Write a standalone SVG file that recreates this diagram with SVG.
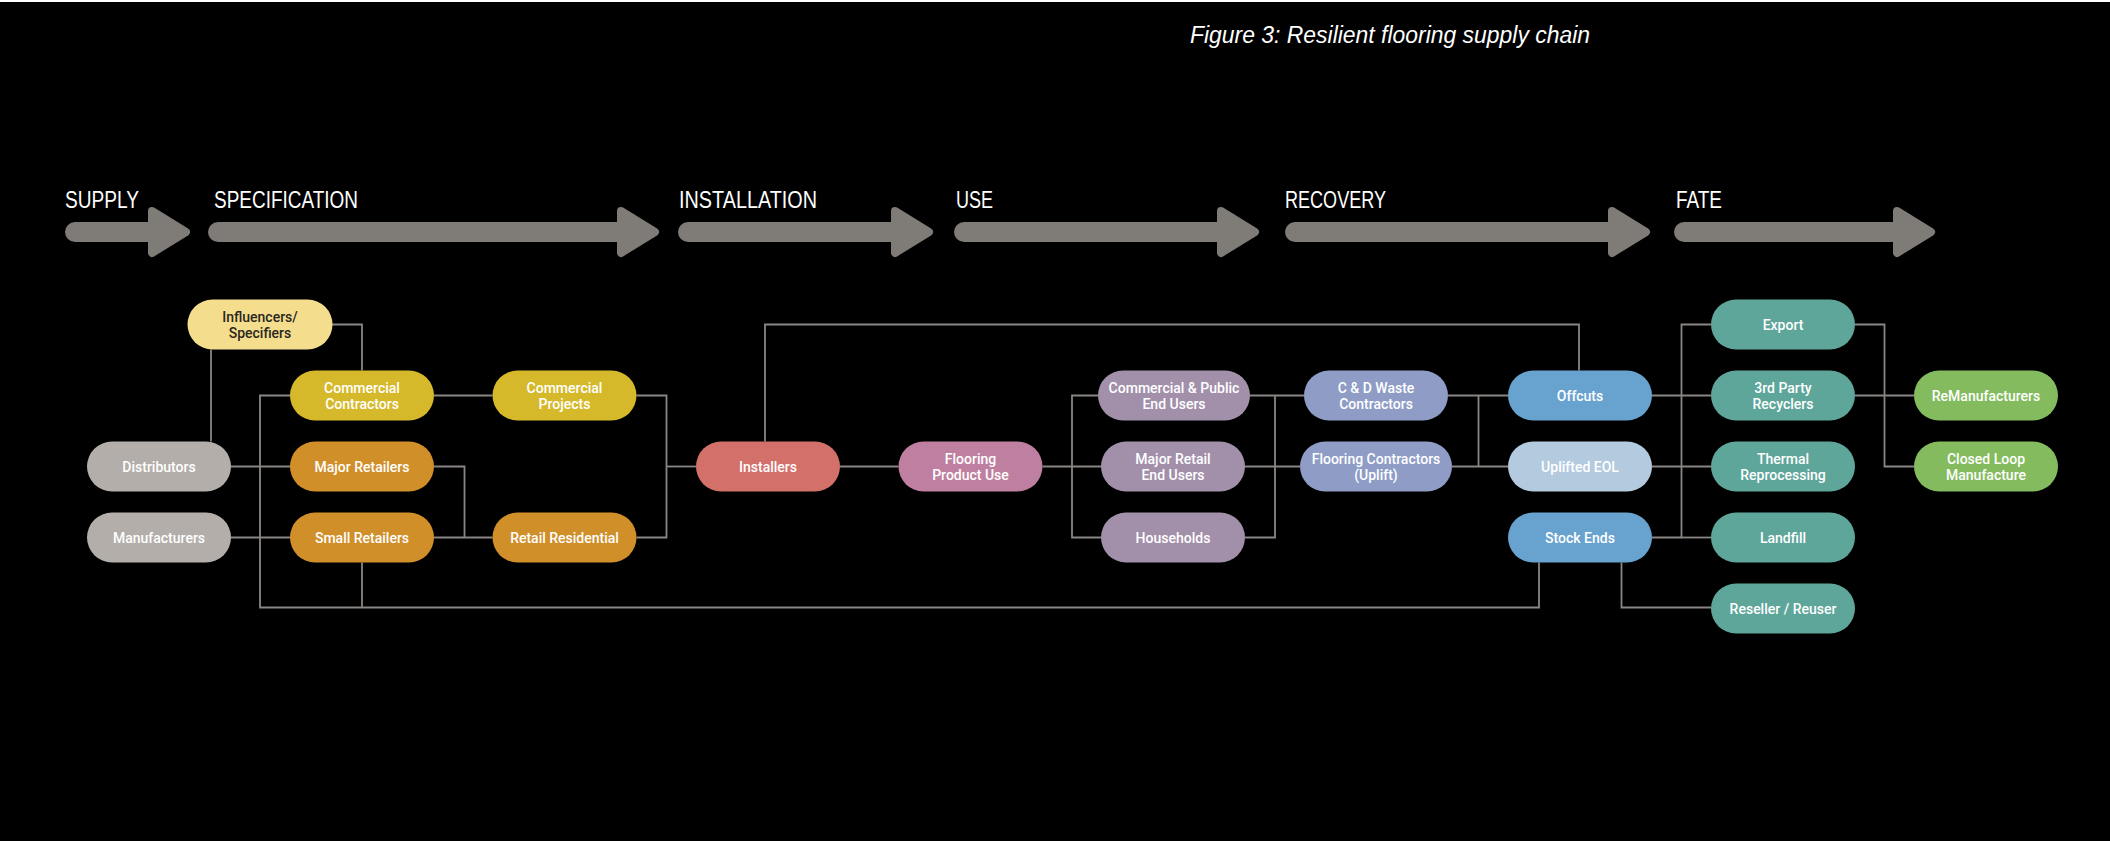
<svg xmlns="http://www.w3.org/2000/svg" width="2110" height="841" viewBox="0 0 2110 841">
<style>
.bg{fill:#000}
.stage{font-family:"Liberation Sans",Arial,sans-serif;font-size:24px;fill:#fff}
.title{font-family:"Liberation Sans",Arial,sans-serif;font-size:23px;font-style:italic;fill:#fff}
.shaft{stroke:#7f7b77;stroke-width:20;stroke-linecap:round;fill:none}
.head{fill:#7f7b77;stroke:#7f7b77;stroke-width:8;stroke-linejoin:round}
.conn path{fill:none;stroke:#8a8683;stroke-width:1.8}
.node rect{stroke:none}
.node text{font-family:Roboto,"Liberation Sans",sans-serif;font-weight:500;font-size:14px;fill:#fff;text-anchor:middle}
.node text.dark{fill:#2b2720}
.c-infl{fill:#f4de8e}
.c-comm{fill:#d5b92a}
.c-ret{fill:#d18f2a}
.c-grey{fill:#b3aea9}
.c-inst{fill:#d4706a}
.c-fpu{fill:#bf7fa0}
.c-end{fill:#a290ab}
.c-cont{fill:#8e9cc6}
.c-blue{fill:#68a2cf}
.c-lblue{fill:#b3cadf}
.c-teal{fill:#5ea59a}
.c-green{fill:#83bb5e}
</style>
<rect class="bg" x="0" y="0" width="2110" height="841"/>
<rect x="0" y="0" width="2110" height="2" fill="#fff"/>

<text class="title" x="1190" y="43" textLength="400" lengthAdjust="spacingAndGlyphs">Figure 3: Resilient flooring supply chain</text>

<g id="stages">
  <text class="stage" x="65" y="208" textLength="74" lengthAdjust="spacingAndGlyphs">SUPPLY</text>
  <text class="stage" x="214" y="208" textLength="144" lengthAdjust="spacingAndGlyphs">SPECIFICATION</text>
  <text class="stage" x="679" y="208" textLength="138" lengthAdjust="spacingAndGlyphs">INSTALLATION</text>
  <text class="stage" x="956" y="208" textLength="37" lengthAdjust="spacingAndGlyphs">USE</text>
  <text class="stage" x="1285" y="208" textLength="101" lengthAdjust="spacingAndGlyphs">RECOVERY</text>
  <text class="stage" x="1676" y="208" textLength="46" lengthAdjust="spacingAndGlyphs">FATE</text>

  <line class="shaft" x1="75" y1="232" x2="160" y2="232"/>
  <polygon class="head" points="152,211 186,232 152,253"/>
  <line class="shaft" x1="218" y1="232" x2="629" y2="232"/>
  <polygon class="head" points="621,211 655,232 621,253"/>
  <line class="shaft" x1="688" y1="232" x2="903" y2="232"/>
  <polygon class="head" points="895,211 929,232 895,253"/>
  <line class="shaft" x1="964" y1="232" x2="1229" y2="232"/>
  <polygon class="head" points="1221,211 1255,232 1221,253"/>
  <line class="shaft" x1="1295" y1="232" x2="1620" y2="232"/>
  <polygon class="head" points="1612,211 1646,232 1612,253"/>
  <line class="shaft" x1="1684" y1="232" x2="1905" y2="232"/>
  <polygon class="head" points="1897,211 1931,232 1897,253"/>
</g>

<g id="connectors" class="conn">
  <path d="M332,324.5 H362 V370.5"/>
  <path d="M211,349.5 V441.5"/>
  <path d="M231,466.5 H290"/>
  <path d="M231,537.5 H290"/>
  <path d="M290,395.5 H260 V607.5 H1539 V562.5"/>
  <path d="M362,562.5 V607.5"/>
  <path d="M434,395.5 H492.5"/>
  <path d="M434,466.5 H464.5 V537.5"/>
  <path d="M434,537.5 H492.5"/>
  <path d="M636.5,395.5 H666.5 V537.5 H636.5"/>
  <path d="M666.5,466.5 H696"/>
  <path d="M765,441.5 V324.5 H1579 V370.5"/>
  <path d="M840,466.5 H898.5"/>
  <path d="M1042.5,466.5 H1101"/>
  <path d="M1098,395.5 H1072 V537.5 H1101"/>
  <path d="M1250,395.5 H1304"/>
  <path d="M1245,466.5 H1300"/>
  <path d="M1245,537.5 H1275 V395.5"/>
  <path d="M1448,395.5 H1508"/>
  <path d="M1452,466.5 H1508"/>
  <path d="M1478.5,395.5 V466.5"/>
  <path d="M1711,324.5 H1681.5 V537.5 H1652"/>
  <path d="M1652,395.5 H1711"/>
  <path d="M1652,466.5 H1711"/>
  <path d="M1681.5,537.5 H1711"/>
  <path d="M1621.5,562.5 V607.5 H1711"/>
  <path d="M1855,324.5 H1884.5 V466.5 H1914"/>
  <path d="M1855,395.5 H1914"/>
</g>

<g id="n-influencers" class="node"><rect class="c-infl" x="187.5" y="299.5" width="145" height="50" rx="25"/><text class="dark" x="260" y="322">Influencers/</text><text class="dark" x="260" y="338">Specifiers</text></g>
<g id="n-distributors" class="node"><rect class="c-grey" x="87" y="441.5" width="144" height="50" rx="25"/><text x="159" y="471.5">Distributors</text></g>
<g id="n-manufacturers" class="node"><rect class="c-grey" x="87" y="512.5" width="144" height="50" rx="25"/><text x="159" y="542.5">Manufacturers</text></g>
<g id="n-comm-contractors" class="node"><rect class="c-comm" x="290" y="370.5" width="144" height="50" rx="25"/><text x="362" y="393">Commercial</text><text x="362" y="409">Contractors</text></g>
<g id="n-major-retailers" class="node"><rect class="c-ret" x="290" y="441.5" width="144" height="50" rx="25"/><text x="362" y="471.5">Major Retailers</text></g>
<g id="n-small-retailers" class="node"><rect class="c-ret" x="290" y="512.5" width="144" height="50" rx="25"/><text x="362" y="542.5">Small Retailers</text></g>
<g id="n-comm-projects" class="node"><rect class="c-comm" x="492.5" y="370.5" width="144" height="50" rx="25"/><text x="564.5" y="393">Commercial</text><text x="564.5" y="409">Projects</text></g>
<g id="n-retail-residential" class="node"><rect class="c-ret" x="492.5" y="512.5" width="144" height="50" rx="25"/><text x="564.5" y="542.5">Retail Residential</text></g>
<g id="n-installers" class="node"><rect class="c-inst" x="696" y="441.5" width="144" height="50" rx="25"/><text x="768" y="471.5">Installers</text></g>
<g id="n-flooring-use" class="node"><rect class="c-fpu" x="898.5" y="441.5" width="144" height="50" rx="25"/><text x="970.5" y="464">Flooring</text><text x="970.5" y="480">Product Use</text></g>
<g id="n-comm-public" class="node"><rect class="c-end" x="1098" y="370.5" width="152" height="50" rx="25"/><text x="1174" y="393">Commercial &amp; Public</text><text x="1174" y="409">End Users</text></g>
<g id="n-major-retail-end" class="node"><rect class="c-end" x="1101" y="441.5" width="144" height="50" rx="25"/><text x="1173" y="464">Major Retail</text><text x="1173" y="480">End Users</text></g>
<g id="n-households" class="node"><rect class="c-end" x="1101" y="512.5" width="144" height="50" rx="25"/><text x="1173" y="542.5">Households</text></g>
<g id="n-cd-waste" class="node"><rect class="c-cont" x="1304" y="370.5" width="144" height="50" rx="25"/><text x="1376" y="393">C &amp; D Waste</text><text x="1376" y="409">Contractors</text></g>
<g id="n-flooring-contractors" class="node"><rect class="c-cont" x="1300" y="441.5" width="152" height="50" rx="25"/><text x="1376" y="464">Flooring Contractors</text><text x="1376" y="480">(Uplift)</text></g>
<g id="n-offcuts" class="node"><rect class="c-blue" x="1508" y="370.5" width="144" height="50" rx="25"/><text x="1580" y="400.5">Offcuts</text></g>
<g id="n-uplifted" class="node"><rect class="c-lblue" x="1508" y="441.5" width="144" height="50" rx="25"/><text x="1580" y="471.5">Uplifted EOL</text></g>
<g id="n-stock-ends" class="node"><rect class="c-blue" x="1508" y="512.5" width="144" height="50" rx="25"/><text x="1580" y="542.5">Stock Ends</text></g>
<g id="n-export" class="node"><rect class="c-teal" x="1711" y="299.5" width="144" height="50" rx="25"/><text x="1783" y="329.5">Export</text></g>
<g id="n-3rd-party" class="node"><rect class="c-teal" x="1711" y="370.5" width="144" height="50" rx="25"/><text x="1783" y="393">3rd Party</text><text x="1783" y="409">Recyclers</text></g>
<g id="n-thermal" class="node"><rect class="c-teal" x="1711" y="441.5" width="144" height="50" rx="25"/><text x="1783" y="464">Thermal</text><text x="1783" y="480">Reprocessing</text></g>
<g id="n-landfill" class="node"><rect class="c-teal" x="1711" y="512.5" width="144" height="50" rx="25"/><text x="1783" y="542.5">Landfill</text></g>
<g id="n-reseller" class="node"><rect class="c-teal" x="1711" y="583.5" width="144" height="50" rx="25"/><text x="1783" y="613.5">Reseller / Reuser</text></g>
<g id="n-remanufacturers" class="node"><rect class="c-green" x="1914" y="370.5" width="144" height="50" rx="25"/><text x="1986" y="400.5">ReManufacturers</text></g>
<g id="n-closed-loop" class="node"><rect class="c-green" x="1914" y="441.5" width="144" height="50" rx="25"/><text x="1986" y="464">Closed Loop</text><text x="1986" y="480">Manufacture</text></g>
</svg>
